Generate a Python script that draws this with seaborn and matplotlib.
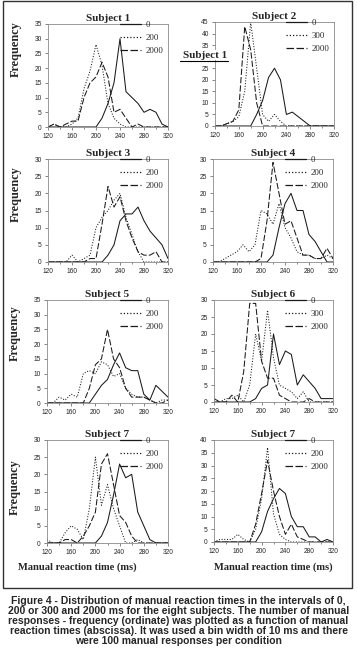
import matplotlib
matplotlib.use("Agg")
import matplotlib.pyplot as plt
import seaborn as sns
import pandas as pd
from matplotlib.patches import Rectangle
from matplotlib.lines import Line2D

# bins of 10 ms
bins = list(range(120, 330, 10))

titles = ["Subject 1", "Subject 2", "Subject 3", "Subject 4",
          "Subject 5", "Subject 6", "Subject 7", "Subject 7"]
mid_labels = ["200", "300", "200", "200", "200", "300", "200", "200"]
ymax = [35, 45, 30, 30, 35, 30, 30, 40]

s1_0 = [0, 0, 0, 0, 0, 0, 0, 0, 0, 3, 8, 15, 30, 12, 10, 8, 5, 6, 5, 1, 0]
s1_mid = [0, 1, 0, 0, 1, 3, 13, 19, 28, 21, 8, 3, 1, 0, 0, 0, 0, 0, 0, 0, 0]
s1_2000 = [0, 1, 0, 1, 2, 2, 10, 15, 17, 22, 17, 5, 6, 3, 0, 1, 0, 0, 0, 0, 0]

s2_0 = [0, 0, 0, 0, 0, 0, 0, 5, 11, 21, 25, 20, 5, 6, 4, 2, 0, 0, 0, 0, 0]
s2_mid = [0, 0, 1, 2, 4, 15, 45, 25, 5, 2, 5, 2, 0, 0, 0, 0, 0, 0, 0, 0, 0]
s2_2000 = [0, 0, 1, 2, 7, 43, 33, 10, 0, 0, 0, 0, 0, 0, 0, 0, 0, 0, 0, 0, 0]

s3_0 = [0, 0, 0, 0, 0, 0, 0, 0, 0, 0, 2, 5, 12, 14, 14, 16, 12, 9, 7, 5, 1]
s3_mid = [0, 0, 0, 0, 2, 0, 1, 2, 10, 13, 15, 18, 20, 13, 8, 3, 0, 0, 0, 0, 0]
s3_2000 = [0, 0, 0, 0, 0, 0, 0, 1, 1, 11, 22, 16, 19, 12, 7, 3, 2, 2, 3, 0, 0]

s4_0 = [0, 0, 0, 0, 0, 0, 0, 0, 0, 0, 2, 10, 17, 20, 15, 15, 8, 6, 3, 0, 0]
s4_mid = [0, 0, 1, 2, 3, 5, 3, 5, 15, 14, 11, 17, 10, 7, 3, 2, 2, 1, 1, 2, 1]
s4_2000 = [0, 0, 0, 0, 0, 0, 0, 0, 1, 12, 29, 20, 11, 12, 7, 2, 2, 1, 1, 4, 1]

s5_0 = [0, 0, 0, 0, 0, 0, 0, 0, 3, 6, 8, 13, 17, 12, 11, 11, 3, 1, 6, 4, 2]
s5_mid = [0, 0, 2, 1, 3, 2, 10, 11, 10, 14, 13, 9, 10, 5, 3, 2, 2, 1, 0, 1, 1]
s5_2000 = [0, 0, 0, 0, 0, 0, 0, 5, 13, 15, 25, 15, 12, 5, 2, 2, 2, 1, 0, 0, 1]

s6_0 = [0, 0, 0, 0, 0, 0, 0, 1, 4, 5, 20, 11, 15, 14, 5, 8, 6, 4, 1, 1, 1]
s6_mid = [0, 0, 1, 1, 2, 0, 5, 20, 12, 27, 13, 5, 4, 3, 1, 3, 0, 0, 0, 0, 0]
s6_2000 = [1, 0, 0, 2, 0, 9, 29, 29, 12, 7, 7, 2, 1, 0, 0, 0, 1, 0, 0, 0, 0]

s7_0 = [0, 0, 0, 0, 0, 0, 0, 0, 0, 2, 6, 14, 23, 19, 20, 9, 5, 1, 0, 0, 0]
s7_mid = [1, 0, 0, 3, 5, 4, 1, 10, 25, 11, 17, 10, 5, 0, 0, 1, 0, 0, 0, 0, 0]
s7_2000 = [0, 0, 0, 1, 1, 0, 2, 5, 9, 23, 26, 17, 8, 6, 2, 0, 0, 0, 0, 0, 0]

s8_0 = [0, 0, 0, 0, 0, 0, 0, 0, 4, 12, 17, 21, 19, 10, 6, 6, 2, 2, 0, 1, 0]
s8_mid = [0, 1, 1, 1, 3, 1, 0, 5, 17, 37, 11, 3, 1, 0, 0, 0, 0, 0, 0, 0, 0]
s8_2000 = [0, 0, 0, 0, 0, 0, 0, 7, 19, 32, 20, 10, 3, 7, 2, 1, 0, 0, 0, 0, 0]

series = [
    (s1_0, s1_mid, s1_2000), (s2_0, s2_mid, s2_2000),
    (s3_0, s3_mid, s3_2000), (s4_0, s4_mid, s4_2000),
    (s5_0, s5_mid, s5_2000), (s6_0, s6_mid, s6_2000),
    (s7_0, s7_mid, s7_2000), (s8_0, s8_mid, s8_2000),
]

sns.set_style("ticks")
plt.rcParams["font.family"] = ["Liberation Serif", "DejaVu Serif"]

W, H = 357, 652
fig = plt.figure(figsize=(W / 100, H / 100), dpi=100)

# axes boxes in pixels: left, right, top, bottom
boxes = [
    (48, 168, 24, 127), (215, 334, 22, 126),
    (48, 168, 159, 262), (213, 333, 159, 262),
    (47, 168, 300, 403), (214, 333, 300, 402),
    (47, 168, 440, 543), (214, 333, 440, 542),
]
freq_y = [0.76, None, 0.66, None, 0.68, None, 0.54, None]

styles = [(None, "-"), ((1, 1.6), ":"), ((6, 2), "--")]

for i, (l, r, t, b) in enumerate(boxes):
    ax = fig.add_axes([l / W, 1 - b / H, (r - l) / W, (b - t) / H])
    labels = ["0", mid_labels[i], "2000"]
    for vals, lab, (dash, ls) in zip(series[i], labels, styles):
        df = pd.DataFrame({"t": bins, "f": vals})
        sns.lineplot(data=df, x="t", y="f", ax=ax, color="#1a1a1a",
                     linewidth=0.75, label=lab)
        line = ax.get_lines()[-1]
        if dash is not None:
            line.set_dashes(dash)
    ax.set_xlim(120, 320)
    ax.set_ylim(0, ymax[i])
    ax.set_xticks(range(120, 330, 40))
    ax.set_xticks(range(140, 330, 40), minor=True)
    ax.set_yticks(range(0, ymax[i] + 1, 5))
    ax.tick_params(axis="both", which="major", labelsize=4.8, length=2.5,
                   width=0.5, color="#555555", pad=2)
    ax.tick_params(axis="x", which="minor", length=1.5, width=0.5,
                   color="#555555")
    for lbl in ax.get_xticklabels() + ax.get_yticklabels():
        lbl.set_family("Liberation Sans")
    if i == 1:
        # hidden behind the stray label in the original
        ax.get_yticklabels()[6].set_visible(False)
    for sp in ax.spines.values():
        sp.set_visible(True)
        sp.set_color("#8a8a8a")
        sp.set_linewidth(0.6)
    ax.set_xlabel("")
    ax.set_ylabel("")
    ax.set_title(titles[i], fontsize=8, fontweight="bold", pad=2.5)
    leg = ax.legend(loc="upper right", bbox_to_anchor=(1.0, 1.07),
                    frameon=False, fontsize=6.3, handlelength=2.3,
                    labelspacing=0.55, handletextpad=0.6, borderaxespad=0.1)
    for h in leg.get_lines():
        h.set_linewidth(0.9)
    if freq_y[i] is not None:
        ax.set_ylabel("Frequency", fontsize=8.8, fontweight="bold")
        ax.yaxis.set_label_coords(-0.215, freq_y[i])

# x labels for bottom row
fig.text(77 / W, 1 - 567 / H, "Manual reaction time (ms)", ha="center",
         va="center", fontsize=7.6, fontweight="bold")
fig.text(273 / W, 1 - 567 / H, "Manual reaction time (ms)", ha="center",
         va="center", fontsize=7.6, fontweight="bold")

# stray label found on the original figure
fig.text(205 / W, 1 - 55 / H, "Subject 1", ha="center", va="center",
         fontsize=8, fontweight="bold",
         bbox=dict(facecolor="white", edgecolor="none", pad=0.3))
fig.add_artist(Line2D([180 / W, 228 / W], [1 - 61 / H, 1 - 61 / H],
                      color="black", linewidth=0.8))

# frame around panels
fig.add_artist(Rectangle((3 / W, 1 - 588 / H), 349 / W, 587 / H,
                         fill=False, edgecolor="#333333", linewidth=1.0))

caption = ("Figure 4 - Distribution of manual reaction times in the intervals of 0,\n"
           "200 or 300 and 2000 ms for the eight subjects. The number of manual\n"
           "responses - frequency (ordinate) was plotted as a function of manual\n"
           "reaction times (abscissa). It was used a bin width of 10 ms and there\n"
           "were 100 manual responses per condition")
fig.text(0.5, 1 - 621 / H, caption, ha="center", va="center",
         fontsize=7.5, fontweight="bold", family="Liberation Sans",
         linespacing=1.02)

fig.savefig("out.png", dpi=100)
